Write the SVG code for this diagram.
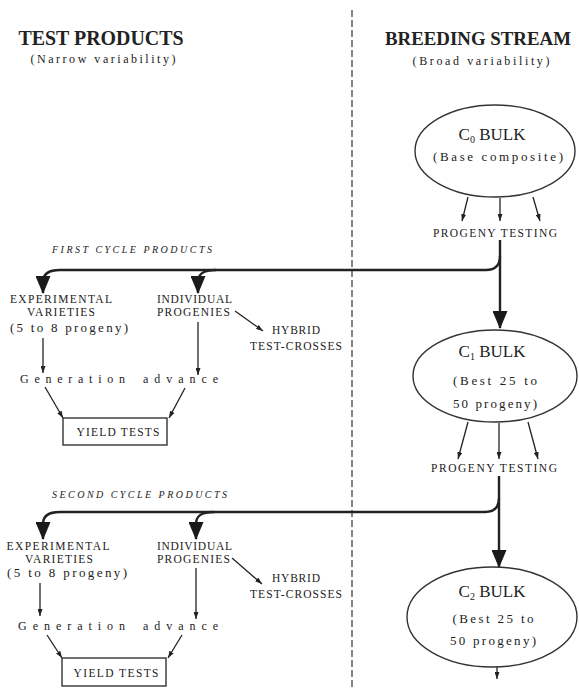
<svg xmlns="http://www.w3.org/2000/svg" width="579" height="688" viewBox="0 0 579 688">
<style>
text{font-family:"Liberation Serif","Times New Roman",serif;fill:#222}
.title{font-size:20px;font-weight:bold}
.sub{font-size:12px}
.lbl{font-size:11.5px}
.par{font-size:13px}
.bulk{font-size:17px}
.cyc{font-size:10px;font-style:italic}
.gen{font-size:12px}
.ln{fill:none;stroke:#222;stroke-width:1.3}
.thick{fill:none;stroke:#222;stroke-width:2.4}
.shape{fill:#fff;stroke:#333;stroke-width:1.4}
</style>
<defs>
<marker id="big" viewBox="0 0 18 15" refX="17" refY="7.5" markerWidth="18" markerHeight="15" markerUnits="userSpaceOnUse" orient="auto"><path d="M0,0 L18,7.5 L0,15 z" fill="#1a1a1a"/></marker>
<marker id="sm" viewBox="0 0 7 5" refX="7" refY="2.5" markerWidth="7" markerHeight="5" markerUnits="userSpaceOnUse" orient="auto"><path d="M0,0 L7,2.5 L0,5 z" fill="#222"/></marker>
</defs>
<rect width="579" height="688" fill="#fff"/>

<g id="headers">
<text class="title" x="101" y="45" text-anchor="middle" textLength="165" lengthAdjust="spacingAndGlyphs">TEST PRODUCTS</text>
<text class="sub" x="103" y="63" text-anchor="middle" textLength="145" lengthAdjust="spacing">(Narrow variability)</text>
<text class="title" x="478" y="45" text-anchor="middle" font-size="19" style="font-size:19px" textLength="186" lengthAdjust="spacingAndGlyphs">BREEDING STREAM</text>
<text class="sub" x="481" y="65" text-anchor="middle" textLength="137" lengthAdjust="spacing">(Broad variability)</text>
<text class="cyc" x="52" y="253" textLength="160" lengthAdjust="spacing">FIRST CYCLE PRODUCTS</text>
<text class="cyc" x="52" y="498" textLength="175" lengthAdjust="spacing">SECOND CYCLE PRODUCTS</text>
</g>

<g id="connectors">
<path d="M352,10 L352,688" fill="none" stroke="#333" stroke-width="1.2" stroke-dasharray="7 3"/>
<!-- cycle 1 -->
<path class="ln" d="M468,197 L462,221" marker-end="url(#sm)"/>
<path class="ln" d="M500,198 L500,221" marker-end="url(#sm)"/>
<path class="ln" d="M533,197 L540,221" marker-end="url(#sm)"/>
<path class="thick" d="M500,240 L500,328" marker-end="url(#big)"/>
<path class="thick" d="M500,256 Q500,270 486,270 L60,270 C48,270 43,274 43,282 L43,293" marker-end="url(#big)"/>
<path class="thick" d="M216,270 C203,270 198,274 198,282 L198,293" marker-end="url(#big)"/>
<path class="ln" d="M235,311 L263,331" marker-end="url(#sm)"/>
<path class="ln" d="M43,338 L43,373" marker-end="url(#sm)"/>
<path class="ln" d="M198,322 L198,375" marker-end="url(#sm)"/>
<path class="ln" d="M45,387 L63,418" marker-end="url(#sm)"/>
<path class="ln" d="M185,388 L169,418" marker-end="url(#sm)"/>
<!-- cycle 2 -->
<path class="ln" d="M468,422 L458,459" marker-end="url(#sm)"/>
<path class="ln" d="M499,423 L499,459" marker-end="url(#sm)"/>
<path class="ln" d="M528,422 L538,459" marker-end="url(#sm)"/>
<path class="thick" d="M499,476 L499,567" marker-end="url(#big)"/>
<path class="thick" d="M499,498 Q499,512 485,512 L60,512 C48,512 43,516 43,524 L43,539" marker-end="url(#big)"/>
<path class="thick" d="M214,512 C201,512 196,516 196,524 L196,539" marker-end="url(#big)"/>
<path class="ln" d="M232,558 L262,584" marker-end="url(#sm)"/>
<path class="ln" d="M40,583 L40,616" marker-end="url(#sm)"/>
<path class="ln" d="M196,568 L196,619" marker-end="url(#sm)"/>
<path class="ln" d="M47,635 L62,658" marker-end="url(#sm)"/>
<path class="ln" d="M182,635 L168,658" marker-end="url(#sm)"/>
<path class="ln" d="M497,667 L497,679" marker-end="url(#sm)"/>
</g>

<g id="c0">
<ellipse class="shape" cx="495" cy="151" rx="80" ry="46"/>
<text class="bulk" x="492" y="140" text-anchor="middle">C<tspan font-size="10" dy="3">0</tspan><tspan dy="-3"> BULK</tspan></text>
<text class="par" x="498" y="161" text-anchor="middle" textLength="130" lengthAdjust="spacing">(Base composite)</text>
</g>
<g id="pt1">
<text class="lbl" x="495" y="237" text-anchor="middle" textLength="124" lengthAdjust="spacing">PROGENY TESTING</text>
</g>
<g id="c1">
<ellipse class="shape" cx="495" cy="376" rx="82" ry="46"/>
<text class="bulk" x="492" y="357" text-anchor="middle">C<tspan font-size="10" dy="3">1</tspan><tspan dy="-3"> BULK</tspan></text>
<text class="par" x="495" y="385" text-anchor="middle" textLength="84" lengthAdjust="spacing">(Best 25 to</text>
<text class="par" x="495" y="408" text-anchor="middle" textLength="84" lengthAdjust="spacing">50 progeny)</text>
</g>
<g id="pt2">
<text class="lbl" x="494" y="472" text-anchor="middle" textLength="126" lengthAdjust="spacing">PROGENY TESTING</text>
</g>
<g id="c2">
<ellipse class="shape" cx="492" cy="617" rx="85" ry="50"/>
<text class="bulk" x="492" y="597" text-anchor="middle">C<tspan font-size="10" dy="3">2</tspan><tspan dy="-3"> BULK</tspan></text>
<text class="par" x="493" y="623" text-anchor="middle" textLength="81" lengthAdjust="spacing">(Best 25 to</text>
<text class="par" x="493" y="645" text-anchor="middle" textLength="86" lengthAdjust="spacing">50 progeny)</text>
</g>

<g id="exp1">
<text class="lbl" x="61" y="303" text-anchor="middle" textLength="102" lengthAdjust="spacing">EXPERIMENTAL</text>
<text class="lbl" x="61" y="316" text-anchor="middle" textLength="68" lengthAdjust="spacing">VARIETIES</text>
<text class="par" x="69" y="332" text-anchor="middle" textLength="118" lengthAdjust="spacing">(5 to 8 progeny)</text>
</g>
<g id="ind1">
<text class="lbl" x="157" y="303" textLength="75" lengthAdjust="spacing">INDIVIDUAL</text>
<text class="lbl" x="157" y="316" textLength="73" lengthAdjust="spacing">PROGENIES</text>
</g>
<g id="hyb1">
<text class="lbl" x="296" y="334" text-anchor="middle" textLength="48" lengthAdjust="spacing">HYBRID</text>
<text class="lbl" x="296" y="350" text-anchor="middle" textLength="92" lengthAdjust="spacing">TEST-CROSSES</text>
</g>
<g id="gen1">
<text class="gen" x="20" y="383" textLength="105" lengthAdjust="spacing">Generation</text>
<text class="gen" x="143" y="383" textLength="75" lengthAdjust="spacing">advance</text>
</g>
<g id="yt1">
<rect class="shape" x="63" y="418" width="104" height="27"/>
<text class="lbl" x="118" y="436" text-anchor="middle" textLength="83" lengthAdjust="spacing">YIELD TESTS</text>
</g>

<g id="exp2">
<text class="lbl" x="58" y="550" text-anchor="middle" textLength="103" lengthAdjust="spacing">EXPERIMENTAL</text>
<text class="lbl" x="59" y="563" text-anchor="middle" textLength="68" lengthAdjust="spacing">VARIETIES</text>
<text class="par" x="67" y="577" text-anchor="middle" textLength="120" lengthAdjust="spacing">(5 to 8 progeny)</text>
</g>
<g id="ind2">
<text class="lbl" x="157" y="550" textLength="75" lengthAdjust="spacing">INDIVIDUAL</text>
<text class="lbl" x="157" y="563" textLength="73" lengthAdjust="spacing">PROGENIES</text>
</g>
<g id="hyb2">
<text class="lbl" x="296" y="582" text-anchor="middle" textLength="48" lengthAdjust="spacing">HYBRID</text>
<text class="lbl" x="296" y="598" text-anchor="middle" textLength="92" lengthAdjust="spacing">TEST-CROSSES</text>
</g>
<g id="gen2">
<text class="gen" x="18" y="630" textLength="107" lengthAdjust="spacing">Generation</text>
<text class="gen" x="143" y="630" textLength="75" lengthAdjust="spacing">advance</text>
</g>
<g id="yt2">
<rect class="shape" x="62" y="658" width="104" height="28"/>
<text class="lbl" x="116" y="677" text-anchor="middle" textLength="85" lengthAdjust="spacing">YIELD TESTS</text>
</g>
</svg>
